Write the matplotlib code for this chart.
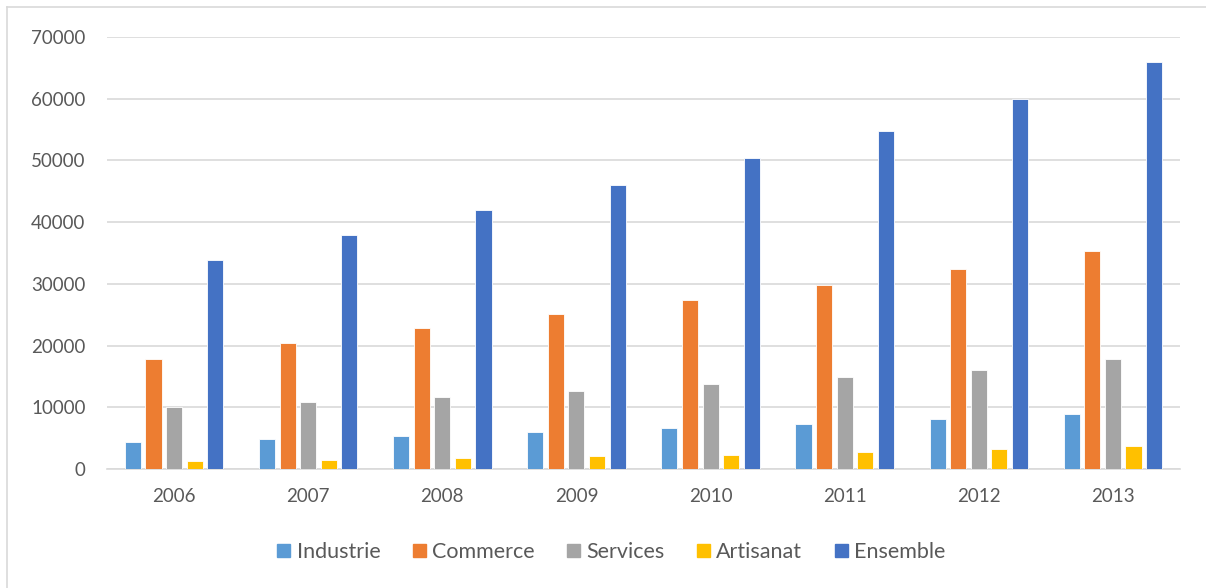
import matplotlib
matplotlib.use("Agg")
import matplotlib.pyplot as plt
import numpy as np
from matplotlib.lines import Line2D

years = ["2006", "2007", "2008", "2009", "2010", "2011", "2012", "2013"]
industrie = [4300, 4800, 5350, 5950, 6700, 7350, 8050, 8900]
commerce = [17900, 20400, 22900, 25100, 27400, 29800, 32400, 35400]
services = [10100, 10900, 11700, 12700, 13700, 14900, 16100, 17800]
artisanat = [1250, 1500, 1850, 2050, 2330, 2700, 3200, 3700]
ensemble = [33800, 37900, 41900, 46000, 50400, 54800, 59900, 66000]

series_names = ["Industrie", "Commerce", "Services", "Artisanat", "Ensemble"]
series = [industrie, commerce, services, artisanat, ensemble]
colors = ["#5B9BD5", "#ED7D31", "#A5A5A5", "#FFC000", "#4472C4"]

plt.rcParams['font.family'] = ['Lato', 'DejaVu Sans']
text_color = "#595959"

fig = plt.figure(figsize=(12.06, 5.88), dpi=100)
W, H = 1206, 588
ax = fig.add_axes([107 / W, 1 - 469 / H, (1180 - 107) / W, (469 - 37) / H])

x = np.arange(len(years))
pitch = 0.1536
width = 0.12
for i, (name, vals, c) in enumerate(zip(series_names, series, colors)):
    ax.bar(x + (i - 2) * pitch, vals, width=width, color=c, label=name,
           edgecolor="white", linewidth=0.6, zorder=3)

ax.set_xlim(-0.5, len(years) - 0.5)
ax.set_ylim(0, 70000)
ax.set_yticks(np.arange(0, 70001, 10000))
ax.set_yticklabels([str(v) for v in range(0, 70001, 10000)])
ax.set_xticks(x)
ax.set_xticklabels(years)
ax.grid(axis="y", color="#D9D9D9", linewidth=1.2, zorder=0)
for s in ["top", "right", "left"]:
    ax.spines[s].set_visible(False)
ax.spines["bottom"].set_color("#D9D9D9")
ax.spines["bottom"].set_linewidth(1.2)
ax.tick_params(axis="both", length=0, labelsize=13.5, colors=text_color)
ax.tick_params(axis="y", pad=15.5)
ax.tick_params(axis="x", pad=14)

handles = [plt.Rectangle((0, 0), 1, 1, color=c) for c in colors]
fig.legend(handles, series_names, loc="center", bbox_to_anchor=(0.507, 1 - 552 / H),
           ncol=5, frameon=False, fontsize=15.5, handlelength=0.6, handleheight=0.6,
           handletextpad=0.3, columnspacing=1.5, labelcolor=text_color)

# outer chart frame (top and left visible)
fig.add_artist(Line2D([7 / W, 7 / W], [0, 1 - 7 / H], transform=fig.transFigure,
                      color="#D9D9D9", linewidth=1.2))
fig.add_artist(Line2D([7 / W, 1], [1 - 7 / H, 1 - 7 / H], transform=fig.transFigure,
                      color="#D9D9D9", linewidth=1.2))

fig.savefig("out.png", dpi=100)
